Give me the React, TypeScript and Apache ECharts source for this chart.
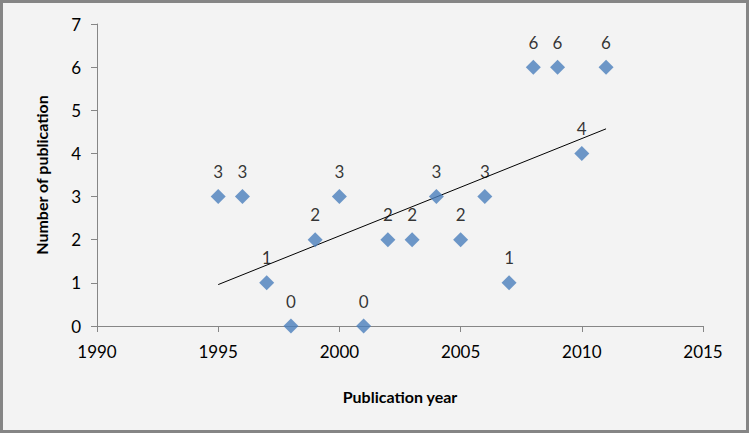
import React, { useEffect, useRef } from "react";
import * as echarts from "echarts";

const years = [1995, 1996, 1997, 1998, 1999, 2000, 2001, 2002, 2003, 2004, 2005, 2006, 2007, 2008, 2009, 2010, 2011];
const counts = [3, 3, 1, 0, 2, 3, 0, 2, 2, 3, 2, 3, 1, 6, 6, 4, 6];
const trendYears = [1995, 2011];
const trendValues = [0.96, 4.57];

export default function App() {
  const ref = useRef<HTMLDivElement>(null);
  useEffect(() => {
    if (!ref.current) return;
    const chart = echarts.init(ref.current, null, { renderer: "svg" });
    const font = "Lato, 'Open Sans', sans-serif";
    chart.setOption({
      animation: false,
      backgroundColor: "#f3f3f3",
      graphic: [
        {
          type: "rect",
          shape: { x: 1.5, y: 1.5, width: 746, height: 430 },
          style: { fill: "none", stroke: "#858585", lineWidth: 3 },
          silent: true,
        },
      ],
      grid: { left: 97, right: 46, top: 24, bottom: 107 },
      xAxis: {
        type: "value",
        min: 1990,
        max: 2015,
        interval: 5,
        name: "Publication year",
        nameLocation: "middle",
        nameGap: 62,
        nameTextStyle: { fontFamily: font, fontSize: 16, fontWeight: "bold", color: "#000" },
        axisLine: { show: true, lineStyle: { color: "#868686", width: 1 } },
        axisTick: { show: true, length: 6, lineStyle: { color: "#868686" } },
        axisLabel: { fontFamily: font, fontSize: 17, color: "#000", margin: 17, formatter: (v: number) => String(v) },
        splitLine: { show: false },
      },
      yAxis: {
        type: "value",
        min: 0,
        max: 7,
        interval: 1,
        name: "Number of publication",
        nameLocation: "middle",
        nameGap: 48,
        nameRotate: 90,
        nameTextStyle: { fontFamily: font, fontSize: 16, fontWeight: "bold", color: "#000" },
        axisLine: { show: true, lineStyle: { color: "#868686", width: 1 } },
        axisTick: { show: true, length: 6, lineStyle: { color: "#868686" } },
        axisLabel: { fontFamily: font, fontSize: 17, color: "#000", margin: 16 },
        splitLine: { show: false },
      },
      series: [
        {
          type: "line",
          data: trendYears.map((x, i) => [x, trendValues[i]]),
          showSymbol: false,
          symbol: "none",
          lineStyle: { color: "#000", width: 1 },
          z: 1,
        },
        {
          type: "scatter",
          data: years.map((x, i) => [x, counts[i]]),
          symbol: "diamond",
          symbolSize: 15,
          itemStyle: { color: "#4a7ebb" },
          label: {
            show: true,
            position: "top",
            distance: 9,
            fontFamily: font,
            fontSize: 17,
            color: "#000",
            formatter: (p: any) => String(p.value[1]),
          },
          z: 2,
        },
      ],
    });
    return () => chart.dispose();
  }, []);
  return <div ref={ref} style={{ position: "absolute", left: 0, top: 0, width: 749, height: 433 }} />;
}
